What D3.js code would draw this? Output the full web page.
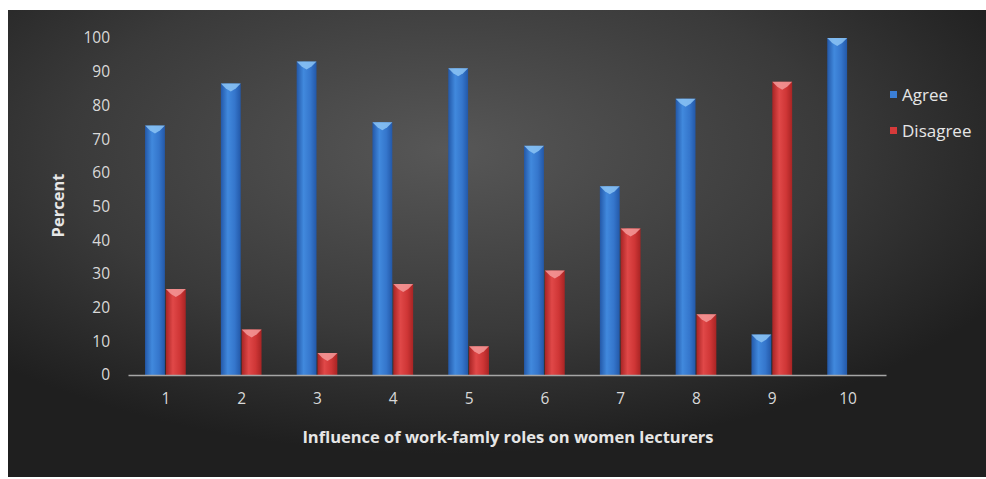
<!DOCTYPE html>
<html>
<head>
<meta charset="utf-8">
<script src="https://cdn.jsdelivr.net/npm/d3@7"></script>
<style>
  body { margin: 0; background: #fff; }
  text { font-family: "Open Sans", "DejaVu Sans", sans-serif; }
</style>
</head>
<body>
<div id="chart"></div>
<script>
// categories and series
var categories = ["1", "2", "3", "4", "5", "6", "7", "8", "9", "10"];
var agree    = [74, 86.5, 93, 75, 91, 68, 56, 82, 12, 100];
var disagree = [25.5, 13.5, 6.5, 27, 8.5, 31, 43.5, 18, 87, 0];
var seriesNames = ["Agree", "Disagree"];
var yTicks = [0, 10, 20, 30, 40, 50, 60, 70, 80, 90, 100];

var W = 986, H = 479;
var margin = { left: 128, right: 100, top: 38, bottom: 104 };
var width = W - margin.left - margin.right;
var height = H - margin.top - margin.bottom;

(function(){
  var svg = d3.select("#chart")
    .append("svg")
      .attr("width", W)
      .attr("height", H);

  var defs = svg.append("defs");

  // dark background with a lighter middle
  var bg = defs.append("radialGradient")
    .attr("id", "bg")
    .attr("cx", "45%").attr("cy", "30%").attr("r", "65%");
  bg.append("stop").attr("offset", "0%").attr("stop-color", "#575757");
  bg.append("stop").attr("offset", "60%").attr("stop-color", "#3a3a3a");
  bg.append("stop").attr("offset", "100%").attr("stop-color", "#1f1f1f");

  svg.append("rect")
    .attr("x", 8).attr("y", 10)
    .attr("width", W - 8).attr("height", H - 12)
    .attr("fill", "url(#bg)");

  // bar body gradients (rounded look)
  function barGrad(id, dark, mid, light) {
    var g = defs.append("linearGradient").attr("id", id)
      .attr("x1", "0%").attr("x2", "100%").attr("y1", "0%").attr("y2", "0%");
    g.append("stop").attr("offset", "0%").attr("stop-color", dark);
    g.append("stop").attr("offset", "35%").attr("stop-color", light);
    g.append("stop").attr("offset", "70%").attr("stop-color", mid);
    g.append("stop").attr("offset", "100%").attr("stop-color", dark);
  }
  barGrad("gAgree", "#2358a8", "#3576cc", "#4189dd");
  barGrad("gDisagree", "#a82424", "#cf3636", "#e04848");

  var colors = { Agree: "#3b7fd6", Disagree: "#d63a3a" };
  var caps = { Agree: "#8cc4f5", Disagree: "#f59a9a" };
  var fills = { Agree: "url(#gAgree)", Disagree: "url(#gDisagree)" };

  var g = svg.append("g")
    .attr("transform", "translate(" + margin.left + "," + margin.top + ")");

  //////////////////// scales
  var x0 = d3.scaleBand()
    .domain(categories)
    .range([0, width])
    .paddingInner(0.45)
    .paddingOuter(0.225);

  var x1 = d3.scaleBand()
    .domain(seriesNames)
    .range([0, x0.bandwidth()]);

  var y = d3.scaleLinear()
    .domain([0, 100])
    .range([height, 0]);

  var data = categories.map(function(c, i) {
    return { cat: c, values: [
      { key: "Agree", value: agree[i] },
      { key: "Disagree", value: disagree[i] }
    ]};
  });

  //////////////////// bars
  var groups = g.selectAll(".grp")
    .data(data)
    .enter().append("g")
      .attr("class", "grp")
      .attr("transform", function(d) { return "translate(" + x0(d.cat) + ",0)"; });

  var bars = groups.selectAll(".bar")
    .data(function(d) { return d.values.filter(function(v) { return v.value > 0; }); })
    .enter().append("g");

  bars.append("rect")
    .attr("x", function(d) { return x1(d.key); })
    .attr("y", function(d) { return y(d.value); })
    .attr("width", x1.bandwidth() - 1)
    .attr("height", function(d) { return height - y(d.value); })
    .attr("fill", function(d) { return fills[d.key]; });

  // bevelled top cap
  bars.append("path")
    .attr("d", function(d) {
      var bx = x1(d.key), bw = x1.bandwidth() - 1, by = y(d.value);
      return "M" + bx + "," + by + "L" + (bx + bw) + "," + by +
        "L" + (bx + bw * 0.75) + "," + (by + 5) + "L" + (bx + bw * 0.5) + "," + (by + 8) +
        "L" + (bx + bw * 0.25) + "," + (by + 5) + "Z";
    })
    .attr("fill", function(d) { return caps[d.key]; })
    .attr("opacity", 0.85);

  //////////////////// Y axis (labels only)
  var yAxis = g.append("g")
    .call(d3.axisLeft(y).tickValues(yTicks).tickSize(0).tickPadding(18));
  yAxis.select(".domain").remove();
  yAxis.selectAll("text")
    .attr("fill", "#d9d9d9")
    .style("font-size", "15.5px");

  //////////////////// X axis
  var xAxis = g.append("g")
    .attr("transform", "translate(0," + height + ")")
    .call(d3.axisBottom(x0).tickSize(0).tickPadding(18));
  xAxis.select(".domain").attr("stroke", "#a6a6a6").attr("stroke-width", 1.3);
  xAxis.selectAll("text")
    .attr("fill", "#d9d9d9")
    .style("font-size", "15.5px");

  // axis titles
  g.append("text")
    .attr("transform", "translate(" + (-64) + "," + (height / 2 - 1) + ") rotate(-90)")
    .attr("text-anchor", "middle")
    .attr("fill", "#e6e6e6")
    .style("font-size", "16.5px")
    .style("font-weight", "bold")
    .text("Percent");

  g.append("text")
    .attr("x", 380)
    .attr("y", height + 68)
    .attr("text-anchor", "middle")
    .attr("fill", "#e6e6e6")
    .style("font-size", "16.5px")
    .style("font-weight", "bold")
    .text("Influence of work-famly roles on women lecturers");

  //////////////////// legend
  var legend = svg.append("g")
    .attr("transform", "translate(890,95)");
  var items = legend.selectAll(".lg")
    .data(seriesNames)
    .enter().append("g")
      .attr("transform", function(d, i) { return "translate(0," + (i * 36) + ")"; });
  items.append("rect")
    .attr("x", 0).attr("y", -4)
    .attr("width", 7).attr("height", 7)
    .attr("fill", function(d) { return colors[d]; });
  items.append("text")
    .attr("x", 12).attr("y", 0)
    .attr("dy", "0.35em")
    .attr("fill", "#e6e6e6")
    .style("font-size", "17px")
    .text(function(d) { return d; });
})();
</script>
</body>
</html>
